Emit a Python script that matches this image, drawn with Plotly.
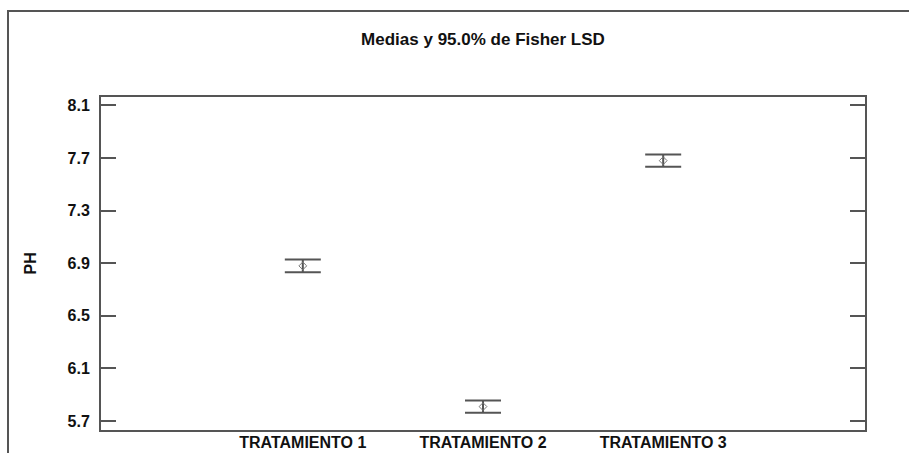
import plotly.graph_objects as go

# Treatment groups and their pH means with 95% Fisher LSD interval half-widths
treatments = ["TRATAMIENTO 1", "TRATAMIENTO 2", "TRATAMIENTO 3"]
ph_means = [6.88, 5.81, 7.68]
lsd_half = [0.048, 0.047, 0.046]
y_ticks = [5.7, 6.1, 6.5, 6.9, 7.3, 7.7, 8.1]

W, H = 909, 453
L, R, T, B = 101, 44, 97, 23
pw, ph = W - L - R, H - T - B

line_col = "#555555"
txt_col = "#111111"
font_fam = "Liberation Sans, Arial, sans-serif"

fig = go.Figure()
fig.add_trace(go.Scatter(
    x=treatments,
    y=ph_means,
    mode="markers",
    marker=dict(symbol="diamond-open", size=6, color="#777777", line=dict(width=1)),
    error_y=dict(type="data", array=lsd_half, visible=True,
                 color=line_col, thickness=2, width=18),
    showlegend=False,
    hoverinfo="x+y",
))

fig.update_layout(
    width=W, height=H,
    margin=dict(l=L, r=R, t=T, b=B, autoexpand=False),
    paper_bgcolor="white",
    plot_bgcolor="white",
    font=dict(family=font_fam, color=txt_col),
    title=dict(
        text="<b>Medias y 95.0% de Fisher LSD</b>",
        x=0.5, xref="paper", xanchor="center",
        y=1 - 39 / H, yref="container", yanchor="middle",
        font=dict(size=17, family=font_fam, color=txt_col),
    ),
    xaxis=dict(
        type="category",
        range=[-1.12, 3.12],
        automargin=False,
        showline=True, linecolor=line_col, linewidth=2, mirror=True,
        showgrid=False, zeroline=False, ticks="",
        tickfont=dict(size=16, family=font_fam, color=txt_col),
        tickprefix="<b>", ticksuffix="</b>",
        ticklabelstandoff=-3,
        fixedrange=True,
    ),
    yaxis=dict(
        range=[5.632, 8.164],
        automargin=False,
        tickvals=y_ticks,
        ticktext=[f"<b>{v:.1f}</b>" for v in y_ticks],
        showline=True, linecolor=line_col, linewidth=2, mirror="ticks",
        ticks="inside", ticklen=15, tickwidth=2, tickcolor=line_col,
        showgrid=False, zeroline=False,
        tickfont=dict(size=16, family=font_fam, color=txt_col),
        ticklabelstandoff=6,
        fixedrange=True,
    ),
)

# Axis title for pH
fig.add_annotation(
    text="<b>PH</b>", textangle=-90,
    xref="paper", yref="paper",
    x=(30 - L) / pw, y=0.5,
    xanchor="center", yanchor="middle",
    showarrow=False,
    font=dict(size=16, family=font_fam, color=txt_col),
)

# Outer frame around the whole chart
fig.add_shape(
    type="rect", xref="paper", yref="paper",
    x0=(8 - L) / pw, x1=(W + 4 - L) / pw,
    y0=(H - B - (H + 4)) / ph, y1=(H - B - 11) / ph,
    line=dict(color=line_col, width=2),
    fillcolor="rgba(0,0,0,0)",
    layer="below",
)

fig.write_html("out.html")
